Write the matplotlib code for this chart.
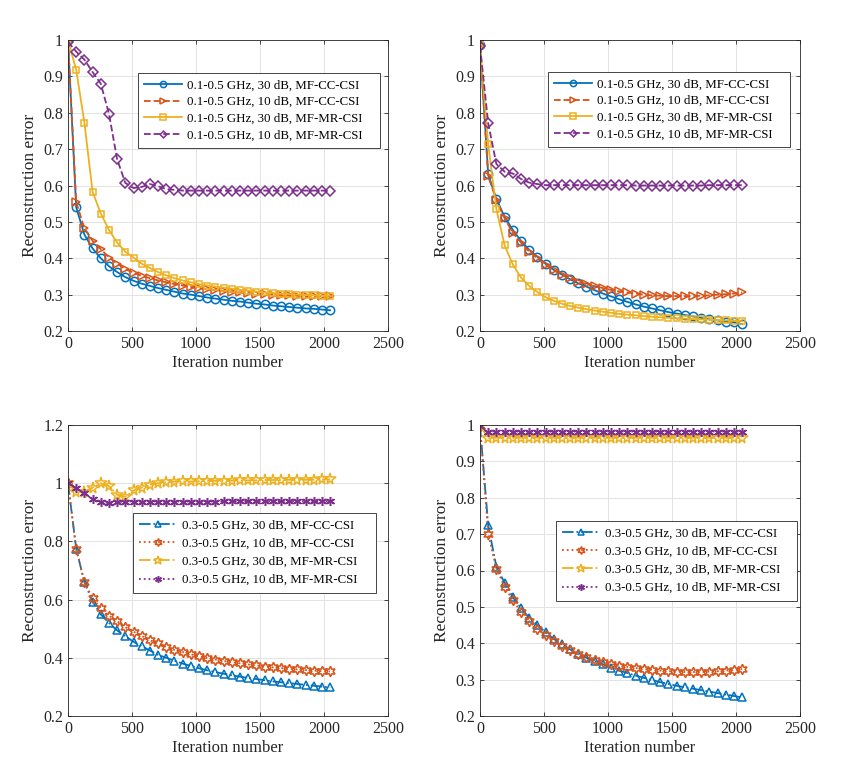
import numpy as np
import matplotlib
matplotlib.use("Agg")
import matplotlib.pyplot as plt

plt.rcParams['font.family'] = ['Liberation Serif', 'DejaVu Serif']
plt.rcParams['mathtext.fontset'] = 'stix'

iters = list(range(0, 2049, 64))

# Top-left: 0.1-0.5 GHz
tl_cc30 = [1.0, 0.54, 0.465, 0.427, 0.40, 0.378, 0.362, 0.348, 0.338, 0.330, 0.324, 0.318, 0.313, 0.308,
           0.303, 0.300, 0.296, 0.292, 0.289, 0.286, 0.283, 0.281, 0.278, 0.275, 0.273, 0.270, 0.268,
           0.266, 0.264, 0.262, 0.261, 0.259, 0.257]
tl_cc10 = [1.0, 0.555, 0.482, 0.448, 0.425, 0.402, 0.385, 0.370, 0.360, 0.352, 0.345, 0.339, 0.334, 0.329,
           0.325, 0.321, 0.318, 0.315, 0.312, 0.310, 0.308, 0.306, 0.304, 0.303, 0.302, 0.300, 0.299,
           0.298, 0.297, 0.296, 0.296, 0.295, 0.295]
tl_mr30 = [1.0, 0.918, 0.773, 0.583, 0.523, 0.478, 0.443, 0.418, 0.402, 0.385, 0.373, 0.362, 0.353, 0.345,
           0.339, 0.334, 0.329, 0.325, 0.322, 0.319, 0.316, 0.313, 0.311, 0.308, 0.306, 0.304, 0.302,
           0.301, 0.300, 0.299, 0.298, 0.297, 0.297]
tl_mr10 = [0.995, 0.968, 0.946, 0.912, 0.880, 0.797, 0.672, 0.607, 0.593, 0.596, 0.604, 0.598, 0.590, 0.588,
           0.586, 0.586, 0.586, 0.586, 0.586, 0.586, 0.586, 0.586, 0.586, 0.586, 0.586, 0.586, 0.586,
           0.586, 0.586, 0.586, 0.586, 0.586, 0.586]

# Top-right: 0.1-0.5 GHz
tr_cc30 = [0.985, 0.631, 0.563, 0.514, 0.478, 0.448, 0.423, 0.404, 0.385, 0.368, 0.355, 0.342, 0.331, 0.322,
           0.312, 0.303, 0.295, 0.287, 0.280, 0.273, 0.267, 0.262, 0.257, 0.252, 0.248, 0.244, 0.240,
           0.236, 0.232, 0.229, 0.226, 0.224, 0.219]
tr_cc10 = [0.985, 0.625, 0.560, 0.510, 0.470, 0.443, 0.418, 0.400, 0.382, 0.367, 0.355, 0.345, 0.336, 0.329,
           0.323, 0.318, 0.313, 0.309, 0.306, 0.303, 0.300, 0.298, 0.297, 0.296, 0.296, 0.296, 0.296,
           0.297, 0.298, 0.300, 0.301, 0.303, 0.306]
tr_mr30 = [0.985, 0.713, 0.535, 0.436, 0.383, 0.347, 0.324, 0.307, 0.293, 0.283, 0.275, 0.269, 0.264, 0.260,
           0.256, 0.253, 0.250, 0.247, 0.245, 0.243, 0.241, 0.239, 0.238, 0.236, 0.235, 0.234, 0.233,
           0.232, 0.231, 0.230, 0.229, 0.228, 0.227]
tr_mr10 = [0.983, 0.771, 0.659, 0.638, 0.633, 0.618, 0.608, 0.604, 0.601, 0.601, 0.601, 0.601, 0.601, 0.601,
           0.601, 0.601, 0.601, 0.601, 0.601, 0.600, 0.600, 0.600, 0.600, 0.600, 0.600, 0.600, 0.600,
           0.600, 0.601, 0.601, 0.601, 0.601, 0.601]

# Bottom-left: 0.3-0.5 GHz
bl_cc30 = [1.0, 0.775, 0.66, 0.593, 0.549, 0.52, 0.494, 0.474, 0.455, 0.44, 0.425, 0.41, 0.40, 0.39,
           0.38, 0.372, 0.364, 0.357, 0.351, 0.345, 0.340, 0.335, 0.331, 0.327, 0.323, 0.319, 0.316,
           0.313, 0.310, 0.307, 0.304, 0.301, 0.298]
bl_cc10 = [1.0, 0.775, 0.66, 0.605, 0.57, 0.545, 0.525, 0.505, 0.49, 0.475, 0.46, 0.45, 0.437, 0.427,
           0.42, 0.412, 0.405, 0.399, 0.394, 0.389, 0.385, 0.381, 0.377, 0.374, 0.370, 0.367, 0.365,
           0.362, 0.360, 0.358, 0.356, 0.354, 0.353]
bl_mr30 = [1.0, 0.97, 0.97, 0.985, 1.0, 0.99, 0.96, 0.953, 0.975, 0.985, 0.995, 1.0, 1.003, 1.005,
           1.006, 1.006, 1.007, 1.008, 1.008, 1.009, 1.009, 1.010, 1.010, 1.010, 1.011, 1.011, 1.011,
           1.012, 1.012, 1.012, 1.012, 1.013, 1.013]
bl_mr10 = [1.0, 0.985, 0.965, 0.945, 0.935, 0.932, 0.935, 0.937, 0.937, 0.937, 0.937, 0.937, 0.937, 0.937,
           0.937, 0.937, 0.937, 0.937, 0.937, 0.938, 0.938, 0.938, 0.938, 0.938, 0.938, 0.938, 0.938,
           0.938, 0.938, 0.938, 0.938, 0.938, 0.938]

# Bottom-right: 0.3-0.5 GHz
br_cc30 = [0.998, 0.724, 0.61, 0.566, 0.527, 0.497, 0.47, 0.45, 0.43, 0.412, 0.398, 0.383, 0.37, 0.36,
           0.35, 0.342, 0.333, 0.325, 0.318, 0.311, 0.305, 0.299, 0.293, 0.288, 0.283, 0.279, 0.275,
           0.271, 0.267, 0.263, 0.259, 0.255, 0.251]
br_cc10 = [0.998, 0.70, 0.605, 0.555, 0.518, 0.487, 0.46, 0.44, 0.422, 0.406, 0.393, 0.381, 0.37, 0.362,
           0.354, 0.348, 0.343, 0.338, 0.335, 0.332, 0.329, 0.327, 0.325, 0.323, 0.322, 0.321, 0.321,
           0.321, 0.322, 0.323, 0.325, 0.326, 0.329]
br_mr30 = [0.998] + [0.965] * 32
br_mr10 = [0.998] + [0.982] * 32

labels_top = ['0.1-0.5 GHz, 30 dB, MF-CC-CSI', '0.1-0.5 GHz, 10 dB, MF-CC-CSI',
              '0.1-0.5 GHz, 30 dB, MF-MR-CSI', '0.1-0.5 GHz, 10 dB, MF-MR-CSI']
labels_bot = ['0.3-0.5 GHz, 30 dB, MF-CC-CSI', '0.3-0.5 GHz, 10 dB, MF-CC-CSI',
              '0.3-0.5 GHz, 30 dB, MF-MR-CSI', '0.3-0.5 GHz, 10 dB, MF-MR-CSI']

C = ['#0072BD', '#D95319', '#EDB120', '#7E2F8E']

# (linestyle, marker, markersize)
top_styles = [('-', 'o', 6.0), ('--', '>', 6.3), ('-', 's', 5.0), ('--', 'D', 4.6)]
bot_styles = [('-.', '^', 6.3), (':', (6, 1, 0), 7.5), ('-.', '*', 8.5), (':', (6, 2, 0), 6.5)]

fig = plt.figure(figsize=(8.47, 7.79), dpi=100)
W = 320 / 847
H = 291 / 779
positions = [(68 / 847, 1 - 331 / 779), (480 / 847, 1 - 331 / 779),
             (68 / 847, 1 - 716 / 779), (480 / 847, 1 - 716 / 779)]
data = [(tl_cc30, tl_cc10, tl_mr30, tl_mr10), (tr_cc30, tr_cc10, tr_mr30, tr_mr10),
        (bl_cc30, bl_cc10, bl_mr30, bl_mr10), (br_cc30, br_cc10, br_mr30, br_mr10)]
# legend boxes in pixels: (left, top, right, bottom)
legend_px = [(138, 73, 380, 147), (548, 72, 790, 146), (133, 513, 376, 592), (556, 521, 797, 594)]

for k in range(4):
    ax = fig.add_axes([positions[k][0], positions[k][1], W, H])
    styles = top_styles if k < 2 else bot_styles
    labels = labels_top if k < 2 else labels_bot
    for i in range(4):
        ls, mk, ms = styles[i]
        ax.plot(iters, data[k][i], linestyle=ls, marker=mk, color=C[i], markerfacecolor='none',
                markeredgecolor=C[i], markersize=ms, linewidth=1.3, markeredgewidth=1.1,
                label=labels[i])
    ax.set_xlim(0, 2500)
    if k == 2:
        ax.set_ylim(0.2, 1.2)
        ax.set_yticks([0.2, 0.4, 0.6, 0.8, 1.0, 1.2])
        ax.set_yticklabels(['0.2', '0.4', '0.6', '0.8', '1', '1.2'])
    else:
        ax.set_ylim(0.2, 1.0)
        ax.set_yticks([0.2, 0.3, 0.4, 0.5, 0.6, 0.7, 0.8, 0.9, 1.0])
        ax.set_yticklabels(['0.2', '0.3', '0.4', '0.5', '0.6', '0.7', '0.8', '0.9', '1'])
    ax.set_xticks([0, 500, 1000, 1500, 2000, 2500])
    ax.grid(True, color='#e3e3e3', linewidth=0.7)
    ax.set_axisbelow(True)
    ax.tick_params(direction='in', top=True, right=True, labelsize=11.5, length=3,
                   colors='#262626', width=0.6)
    for sp in ax.spines.values():
        sp.set_color('#262626')
        sp.set_linewidth(0.6)
    ax.set_xlabel('Iteration number', fontsize=12, color='#262626', labelpad=2)
    ax.set_ylabel('Reconstruction error', fontsize=12.5, color='#262626', labelpad=4)
    l, t, r, b = legend_px[k]
    anchor = (l / 847, 1 - b / 779, (r - l) / 847, (b - t) / 779)
    leg = ax.legend(loc='upper left', bbox_to_anchor=anchor, bbox_transform=fig.transFigure,
                    mode='expand', borderaxespad=0, fancybox=False, edgecolor='#262626',
                    fontsize=9.3, handlelength=2.9, borderpad=0.5,
                    labelspacing=0.36 if k < 2 else 0.48, handletextpad=0.4,
                    framealpha=1, markerscale=0.75)
    leg.get_frame().set_linewidth(0.6)

fig.savefig('out.png', dpi=100)
